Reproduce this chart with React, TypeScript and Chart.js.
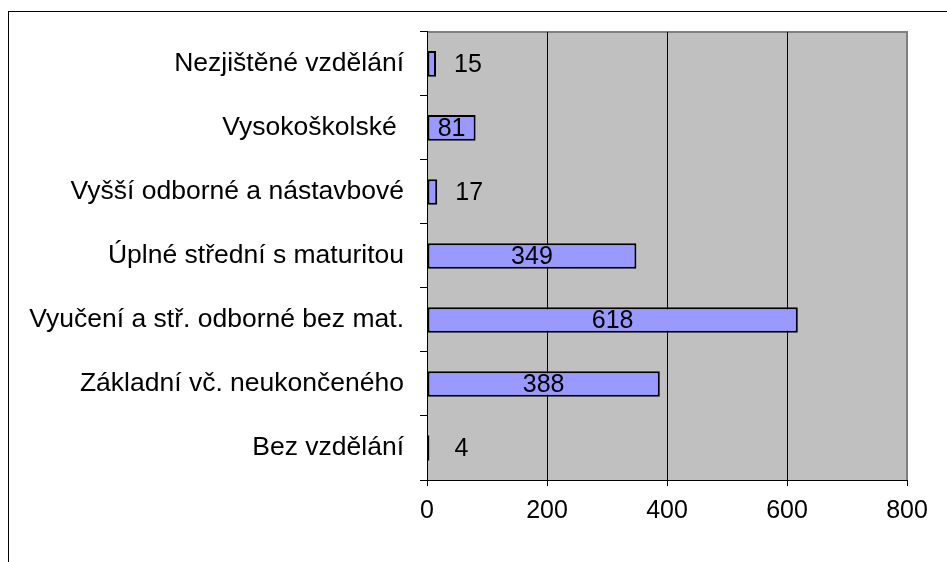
import React, { useEffect, useRef } from "react";
import { Chart, registerables } from "chart.js";

Chart.register(...registerables);

const categories = [
  "Nezjištěné vzdělání",
  "Vysokoškolské ",
  "Vyšší odborné a nástavbové",
  "Úplné střední s maturitou",
  "Vyučení a stř. odborné bez mat.",
  "Základní vč. neukončeného",
  "Bez vzdělání",
];
const values = [15, 81, 17, 349, 618, 388, 4];
const xMin = 0;
const xMax = 800;
const xStep = 200;

const FONT = "'Liberation Sans', Arial, sans-serif";

const plotBg = {
  id: "plotBg",
  beforeDraw(chart: any) {
    const { ctx, chartArea: a } = chart;
    ctx.save();
    ctx.fillStyle = "#C0C0C0";
    ctx.fillRect(a.left, a.top, a.right - a.left, a.bottom - a.top);
    ctx.strokeStyle = "#808080";
    ctx.lineWidth = 2;
    ctx.beginPath();
    ctx.moveTo(a.left, a.top);
    ctx.lineTo(a.right, a.top);
    ctx.lineTo(a.right, a.bottom);
    ctx.stroke();
    ctx.restore();
  },
};

const valueLabels = {
  id: "valueLabels",
  afterDatasetsDraw(chart: any) {
    const { ctx } = chart;
    const meta = chart.getDatasetMeta(0);
    ctx.save();
    ctx.font = `25px ${FONT}`;
    ctx.fillStyle = "#000";
    ctx.textAlign = "center";
    ctx.textBaseline = "middle";
    meta.data.forEach((bar: any, i: number) => {
      const txt = String(values[i]);
      const w = ctx.measureText(txt).width;
      const bw = bar.x - bar.base;
      let x;
      if (bw > w + 6) x = (bar.x + bar.base) / 2;
      else x = bar.x + 32;
      ctx.fillText(txt, x, bar.y + 1);
    });
    ctx.restore();
  },
};

export default function App() {
  const ref = useRef<HTMLCanvasElement>(null);
  useEffect(() => {
    if (!ref.current) return;
    const chart = new Chart(ref.current, {
      type: "bar",
      data: {
        labels: categories,
        datasets: [
          {
            data: values,
            backgroundColor: "#9999FF",
            borderColor: "#000000",
            borderWidth: 2,
            borderSkipped: false,
            categoryPercentage: 1,
            barPercentage: 0.4,
          },
        ],
      },
      options: {
        indexAxis: "y",
        responsive: false,
        animation: false,
        devicePixelRatio: 1,
        layout: { padding: { top: 28, right: 40, left: 0, bottom: 0 } },
        plugins: {
          legend: { display: false },
          tooltip: { enabled: false },
          title: { display: false },
        },
        scales: {
          x: {
            type: "linear",
            min: xMin,
            max: xMax,
            ticks: {
              stepSize: xStep,
              color: "#000",
              font: { family: FONT, size: 25 },
              padding: 10,
            },
            grid: {
              color: (c: any) => (c.tick && c.tick.value === xMax ? "#808080" : "#000"),
              tickColor: "#000",
              tickLength: 6,
              lineWidth: 1,
            },
            border: { color: "#000", width: 1 },
            afterFit(scale: any) {
              scale.height = 82;
            },
          },
          y: {
            type: "category",
            ticks: {
              color: "#000",
              font: { family: FONT, size: 26.5 },
              padding: 16,
            },
            grid: {
              offset: true,
              drawOnChartArea: false,
              tickLength: 7,
              color: "#000",
              tickColor: "#000",
            },
            border: { color: "#000", width: 1 },
            afterFit(scale: any) {
              scale.width = 427;
            },
          },
        },
      },
      plugins: [plotBg, valueLabels],
    });
    return () => chart.destroy();
  }, []);

  return (
    <div style={{ position: "fixed", left: 0, top: 0, width: 947, height: 562, overflow: "hidden", background: "#fff" }}>
      <div
        style={{
          position: "absolute",
          left: 8,
          top: 11,
          width: 1200,
          height: 800,
          borderLeft: "1px solid #000",
          borderTop: "1px solid #000",
        }}
      />
      <canvas
        ref={ref}
        width={947}
        height={562}
        style={{ position: "absolute", left: 0, top: 0, width: 947, height: 562 }}
      />
    </div>
  );
}
